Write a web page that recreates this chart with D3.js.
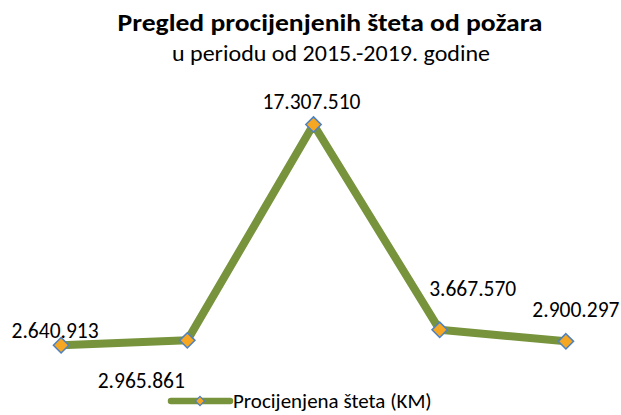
<!DOCTYPE html>
<html>
<head>
<meta charset="utf-8">
<script src="https://cdn.jsdelivr.net/npm/d3@7"></script>
<style>
  body { margin: 0; background: #fff; }
  text { font-family: Carlito, Calibri, Lato, sans-serif; fill: #000; }
</style>
</head>
<body>
<svg id="chart" width="621" height="415"></svg>
<script>
// Data
var years = ["2015", "2016", "2017", "2018", "2019"];
var steta = [2640913, 2965861, 17307510, 3667570, 2900297];
var valueLabels = ["2.640.913", "2.965.861", "17.307.510", "3.667.570", "2.900.297"];
var seriesName = "Procijenjena šteta (KM)";

// label placement relative to each point (labels were moved by hand in the original)
var labelShift = [[-6, -7], [-46, 48], [-2, -16], [33, -34], [10, -24]];

var svg = d3.select("#chart");
var lineColor = "#77933c";
var markerFill = "#f5a623";
var markerStroke = "#4f81bd";

// Title
svg.append("text")
    .attr("x", 330).attr("y", 31)
    .attr("text-anchor", "middle")
    .attr("textLength", 425)
    .attr("lengthAdjust", "spacingAndGlyphs")
    .style("font-weight", "bold")
    .style("font-size", "25px")
    .text("Pregled procijenjenih šteta od požara");

svg.append("text")
    .attr("x", 331).attr("y", 61)
    .attr("text-anchor", "middle")
    .attr("textLength", 318)
    .attr("lengthAdjust", "spacingAndGlyphs")
    .style("font-size", "23px")
    .text("u periodu od 2015.-2019. godine");

// Scales
var x = d3.scalePoint()
    .domain(years)
    .range([-2, 629])
    .padding(0.5);

var y = d3.scaleLinear()
    .domain([0, 20000000])
    .range([385, 84]);

var data = years.map(function(d, i) { return { year: d, value: steta[i], label: valueLabels[i] }; });

var line = d3.line()
    .x(function(d) { return x(d.year); })
    .y(function(d) { return y(d.value); });

svg.append("path")
    .datum(data)
    .attr("fill", "none")
    .attr("stroke", lineColor)
    .attr("stroke-width", 8)
    .attr("stroke-linejoin", "round")
    .attr("d", line);

var diamond = d3.symbol().type(d3.symbolDiamond2).size(150);

svg.selectAll(".marker")
    .data(data)
    .enter().append("path")
      .attr("class", "marker")
      .attr("transform", function(d) { return "translate(" + x(d.year) + "," + y(d.value) + ")"; })
      .attr("d", diamond)
      .attr("fill", markerFill)
      .attr("stroke", markerStroke)
      .attr("stroke-width", 1.5);

svg.selectAll(".vlabel")
    .data(data)
    .enter().append("text")
      .attr("class", "vlabel")
      .attr("x", function(d, i) { return x(d.year) + labelShift[i][0]; })
      .attr("y", function(d, i) { return y(d.value) + labelShift[i][1]; })
      .attr("text-anchor", "middle")
      .style("font-size", "21.5px")
      .text(function(d) { return d.label; });

// Legend
var legend = svg.append("g").attr("transform", "translate(171,401)");
legend.append("line")
    .attr("x1", 0).attr("x2", 59)
    .attr("stroke", lineColor)
    .attr("stroke-width", 6.5)
    .attr("stroke-linecap", "round");
legend.append("path")
    .attr("transform", "translate(29,0)")
    .attr("d", d3.symbol().type(d3.symbolDiamond2).size(55))
    .attr("fill", markerFill)
    .attr("stroke", markerStroke)
    .attr("stroke-width", 1.2);
legend.append("text")
    .attr("x", 62).attr("y", 7)
    .style("font-size", "21px")
    .text(seriesName);
</script>
</body>
</html>
